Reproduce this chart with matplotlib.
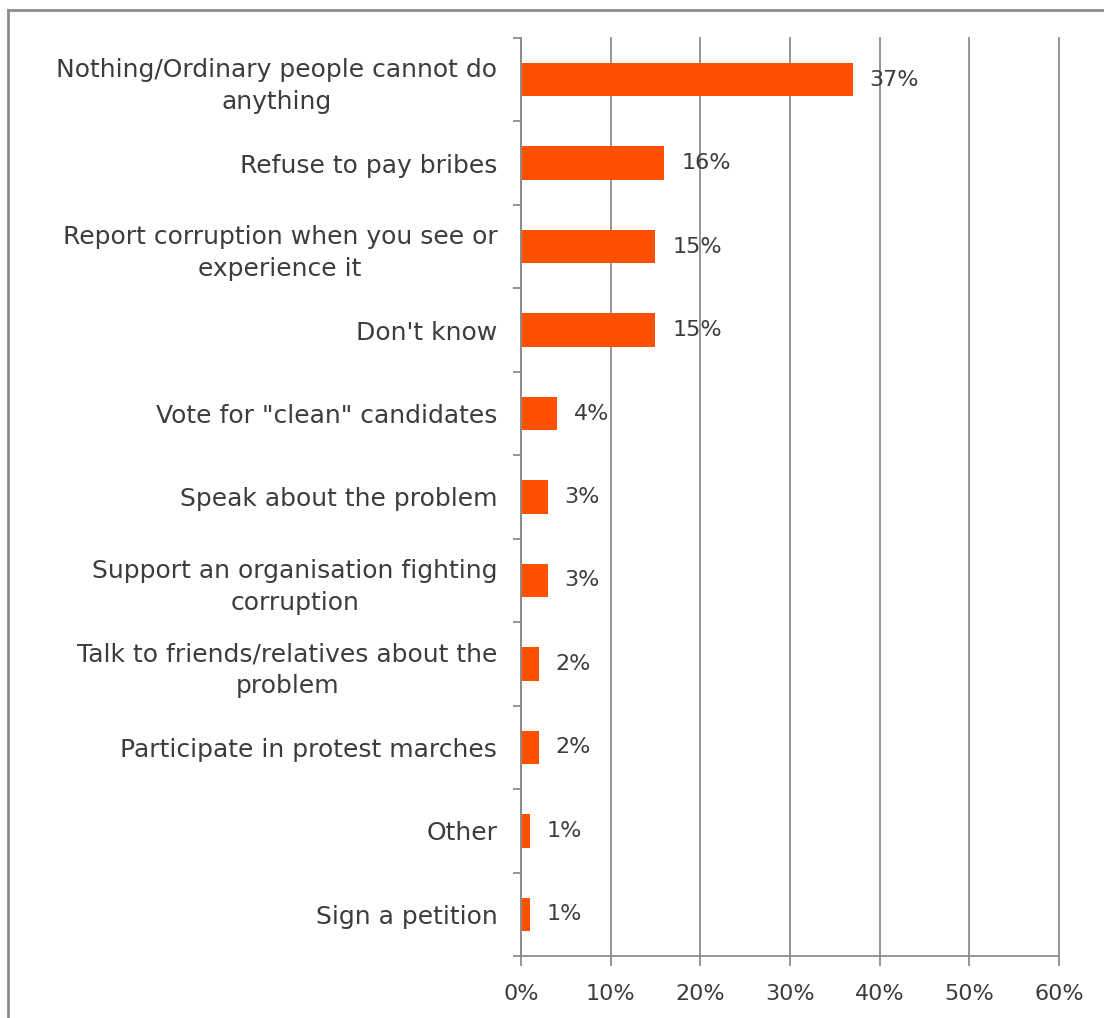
import matplotlib.pyplot as plt
from matplotlib.lines import Line2D
from matplotlib.ticker import FixedLocator, FuncFormatter

# 数据（从上到下）
categories = [
    "Nothing/Ordinary people cannot do\nanything",
    "Refuse to pay bribes",
    "Report corruption when you see or\nexperience it",
    "Don't know",
    "Vote for \"clean\" candidates",
    "Speak about the problem",
    "Support an organisation fighting\ncorruption",
    "Talk to friends/relatives about the\nproblem",
    "Participate in protest marches",
    "Other",
    "Sign a petition",
]
values = [37, 16, 15, 15, 4, 3, 3, 2, 2, 1, 1]
x_ticks = [0, 10, 20, 30, 40, 50, 60]

BAR_COLOR = "#FF5000"
TEXT_COLOR = "#3C3C3C"
GRID_COLOR = "#8C8C8C"

plt.rcParams["font.family"] = ["DejaVu Sans"]

fig = plt.figure(figsize=(11.04, 10.18), dpi=100)
ax = fig.add_axes([0.4719, 0.0609, 0.4873, 0.9018])

n = len(categories)
ypos = list(range(n))
ax.barh(ypos, values, height=0.4, color=BAR_COLOR, zorder=3)
ax.set_ylim(n - 0.5, -0.5)
ax.set_xlim(0, 60)

# 数值标签
for y, v in zip(ypos, values):
    ax.annotate(f"{v}%", (v, y), xytext=(12, 0), textcoords="offset points",
                ha="left", va="center", fontsize=16, color=TEXT_COLOR, zorder=4)

# y 轴：刻度在类别边界，标签在类别中心
ax.yaxis.set_major_locator(FixedLocator([i - 0.5 for i in range(n + 1)]))
ax.yaxis.set_major_formatter(FuncFormatter(lambda v, p: ""))
ax.yaxis.set_minor_locator(FixedLocator(ypos))
ax.set_yticklabels(categories, minor=True, fontsize=18, color=TEXT_COLOR,
                   ha="right", multialignment="center", linespacing=1.4)
ax.tick_params(axis="y", which="major", length=6, width=1.3, color=GRID_COLOR,
               direction="out")
ax.tick_params(axis="y", which="minor", length=0, pad=17)

# x 轴
ax.set_xticks(x_ticks)
ax.set_xticklabels([f"{t}%" for t in x_ticks], fontsize=16, color=TEXT_COLOR)
ax.tick_params(axis="x", which="major", length=7, width=1.3, color=GRID_COLOR,
               direction="out", pad=13)
ax.grid(axis="x", color=GRID_COLOR, linewidth=1.3, zorder=0)
for gl in ax.xaxis.get_gridlines():
    gl.set_clip_on(False)

for side in ["top", "right"]:
    ax.spines[side].set_visible(False)
for side in ["left", "bottom"]:
    ax.spines[side].set_color(GRID_COLOR)
    ax.spines[side].set_linewidth(1.3)
    ax.spines[side].set_zorder(5)

# 外框线（左、上）
fig.add_artist(Line2D([8 / 1104, 8 / 1104], [0, 1 - 10 / 1018],
                      transform=fig.transFigure, color=GRID_COLOR, linewidth=2))
fig.add_artist(Line2D([8 / 1104, 1], [1 - 10 / 1018, 1 - 10 / 1018],
                      transform=fig.transFigure, color=GRID_COLOR, linewidth=2))

fig.savefig("out.png", dpi=100)
